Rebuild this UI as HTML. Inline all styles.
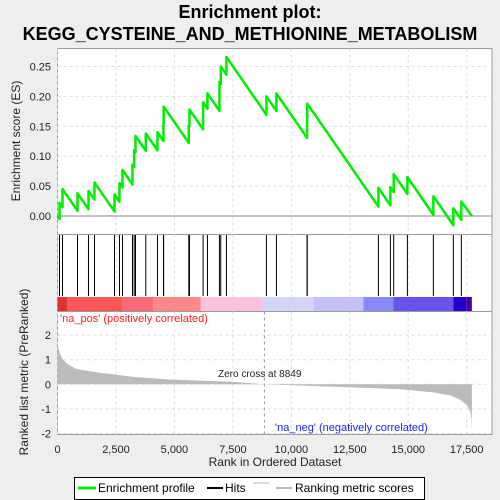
<!DOCTYPE html>
<html><head><meta charset="utf-8">
<style>
html,body{margin:0;padding:0;background:#eeeeee;}
svg{display:block;font-family:"Liberation Sans","DejaVu Sans",sans-serif;}
</style></head>
<body>
<svg id="chart" width="500" height="500" viewBox="0 0 500 500" xmlns="http://www.w3.org/2000/svg">
<text x="250" y="18" text-anchor="middle" font-size="18" font-weight="bold" fill="#000">Enrichment plot:</text>
<text x="250" y="40" text-anchor="middle" font-size="18" font-weight="bold" fill="#000">KEGG_CYSTEINE_AND_METHIONINE_METABOLISM</text>
<rect x="57.5" y="48.5" width="434.5" height="186" fill="#fff" stroke="#999"/>
<rect x="57.5" y="234.5" width="434.5" height="77" fill="#fff" stroke="#999"/>
<rect x="57.5" y="311.5" width="434.5" height="123" fill="#fff" stroke="#999"/>
<g id="grid"></g>
<g id="colorbar"></g>
<g id="metric"></g>
<g id="hits"></g>
<g id="es"></g>
<g id="axes"></g>
<text x="20" y="141" transform="rotate(-90 20 141)" text-anchor="middle" font-size="12" fill="#222">Enrichment score (ES)</text>
<text x="28" y="372" transform="rotate(-90 28 372)" text-anchor="middle" font-size="12" fill="#222">Ranked list metric (PreRanked)</text>
<text x="275" y="466" text-anchor="middle" font-size="12" fill="#222">Rank in Ordered Dataset</text>
<text x="60" y="322" font-size="11" fill="#ff2020">'na_pos' (positively correlated)</text>
<text x="275" y="431" font-size="11" fill="#2020ff">'na_neg' (negatively correlated)</text>
<text x="218" y="377" font-size="10" fill="#222">Zero cross at 8849</text>
<g>
<rect x="74.5" y="477.5" width="350" height="22" fill="#fff" stroke="#000"/>
<line x1="78" y1="488" x2="96" y2="488" stroke="#00ee00" stroke-width="3"/>
<text x="98" y="492" font-size="12" fill="#000">Enrichment profile</text>
<line x1="207" y1="488" x2="223" y2="488" stroke="#000" stroke-width="2"/>
<text x="225" y="492" font-size="12" fill="#000">Hits</text>
<line x1="253" y1="483" x2="269" y2="483" stroke="#bbb" stroke-width="1"/>
<line x1="276" y1="488" x2="292" y2="488" stroke="#bbb" stroke-width="2"/>
<text x="295" y="492" font-size="12" fill="#000">Ranking metric scores</text>
</g>
</svg>
<script>
const hitRanks=[86,214,855,1325,1582,2437,2650,2779,3206,3278,3335,3776,4275,4532,4540,5615,5643,6227,6413,6926,6983,7225,8935,9362,10673,10680,13723,14236,14378,14963,16074,16929,17271];
const esAfter=[0.022,0.045,0.038,0.042,0.056,0.036,0.055,0.077,0.086,0.110,0.134,0.138,0.140,0.155,0.183,0.152,0.178,0.190,0.205,0.224,0.250,0.266,0.200,0.205,0.160,0.188,0.047,0.048,0.070,0.065,0.033,0.013,0.024];
const esSlope=0.0000566;
const totalRanks=17720;
const metricRanks=[0,100,200,400,800,1824,3250,4675,7524,8849,11800,14650,16074,16790,17220,17500,17650,17700,17720];
const metricVals=[1.64,1.25,1.05,0.84,0.62,0.47,0.30,0.20,0.10,0.0,-0.10,-0.20,-0.33,-0.45,-0.63,-0.83,-1.1,-1.4,-1.85];
const xTicks=[0,2500,5000,7500,10000,12500,15000,17500];
const esTicks=[0,0.05,0.10,0.15,0.20,0.25];
const metricTicks=[-2,-1,0,1,2];
const colorStops=[0,420,2770,4100,6130,8750,10960,13080,14360,16930,17480,17720];
const colorFills=["#e03030","#ff5555","#ff6a7a","#ff8888","#ffc0e0","#d4d4fa","#c4c0fa","#8888ff","#6655e8","#2200cc","#4400aa"];

const NS="http://www.w3.org/2000/svg";
const X=r=>57.5+r*0.023383;
const YE=v=>216-v*598;
const YM=v=>384.3-v*24.6;
function mk(tag,attrs,parent){const e=document.createElementNS(NS,tag);for(const k in attrs)e.setAttribute(k,attrs[k]);document.getElementById(parent).appendChild(e);return e;}
function fmt(n){return n.toLocaleString('en-US');}

xTicks.forEach(t=>{
  [[48.5,234.5],[234.5,311.5],[311.5,434.5]].forEach(([a,b])=>{
    const l=mk('line',{x1:X(t),x2:X(t),y1:a,y2:b,stroke:'#ddd','stroke-dasharray':'3,3'},'grid');
    
    
  });
  const tl=mk('text',{x:X(t),y:453,'text-anchor':'middle','font-size':'11',fill:'#222'},'axes');
  tl.textContent=fmt(t);
  
  
});
esTicks.forEach(t=>{
  const l=mk('line',{x1:57.5,x2:492,y1:YE(t),y2:YE(t),stroke:t===0?'#888':'#ddd','stroke-dasharray':t===0?'':'3,3'},'grid');
  
  
  const tl=mk('text',{x:51,y:YE(t)+4,'text-anchor':'end','font-size':'11',fill:'#222'},'axes');
  tl.textContent=t.toFixed(2);
  
  
});
metricTicks.forEach(t=>{
  const l=mk('line',{x1:57.5,x2:492,y1:YM(t),y2:YM(t),stroke:'#ddd','stroke-dasharray':'3,3'},'grid');
  
  
  const tl=mk('text',{x:51,y:YM(t)+4,'text-anchor':'end','font-size':'11',fill:'#222'},'axes');
  tl.textContent=String(t);
  
  
});
for(let i=0;i<colorFills.length;i++){
  const r=mk('rect',{x:X(colorStops[i]),y:297,width:X(colorStops[i+1])-X(colorStops[i]),height:14,fill:colorFills[i]},'colorbar');
  
  
}
// metric area
let d='M'+X(0)+','+YM(0);
metricRanks.forEach((r,i)=>{d+=' L'+X(r)+','+YM(metricVals[i]);});
d+=' L'+X(totalRanks)+','+YM(0)+' Z';
const area=mk('path',{d:d,fill:'#bbbbbb',stroke:'none'},'metric');


const zc=mk('line',{x1:X(8849),x2:X(8849),y1:311.5,y2:434.5,stroke:'#999','stroke-dasharray':'3,3'},'metric');


// hits
hitRanks.forEach(r=>{
  const l=mk('line',{x1:X(r),x2:X(r),y1:235,y2:296,stroke:'#000','stroke-width':1},'hits');
  
  
});
// ES curve
let prevR=0,prevV=0;
let p='M'+X(0)+','+YE(0);
hitRanks.forEach((r,i)=>{
  const v=prevV-esSlope*(r-prevR);
  p+=' L'+X(r)+','+YE(v)+' L'+X(r)+','+YE(esAfter[i]);
  prevR=r;prevV=esAfter[i];
});
p+=' L'+X(totalRanks)+','+YE(0);
const es=mk('path',{d:p,fill:'none',stroke:'#00ee00','stroke-width':2.5,'stroke-linejoin':'round'},'es');


</script>
</body></html>
